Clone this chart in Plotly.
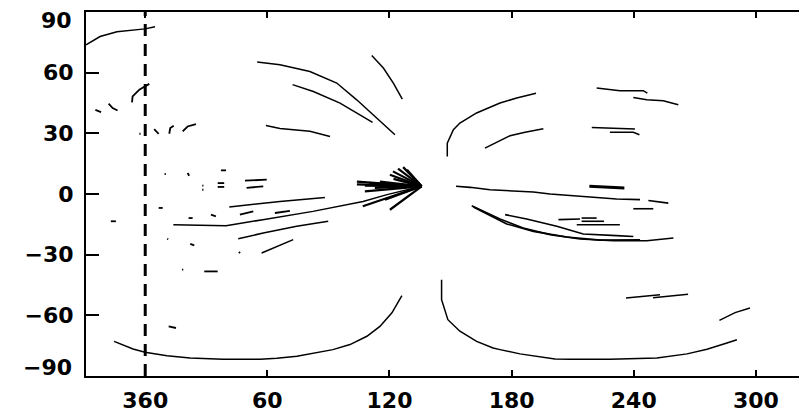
import plotly.graph_objects as go

# ---------------- data (true longitudes in degrees, latitudes in degrees) ----------------
X_TICK_VALS = [360, 420, 480, 540, 600, 660]
X_TICK_TEXT = ["360", "60", "120", "180", "240", "300"]
Y_TICK_VALS = [-90, -60, -30, 0, 30, 60, 90]
Y_TICK_TEXT = ["", "\u221260", "\u221230", "0", "30", "60", ""]
Y_EDGE_LABELS = ["90", "\u221290"]
Y_EDGE_LABEL_POS = [85.7, -85.7]
MERIDIAN = 360
WRAP_START = 330

N_POLAR_LON = [330.9, 337.8, 346.1, 354.0, 359.9, 4.8]
N_POLAR_LAT = [73.8, 77.9, 80.3, 81.3, 81.7, 82.7]

S_POLAR_W_LON = [344.7, 354.0, 359.9, 10.7, 22.0, 38.2, 56.4, 64.7, 74.5, 84.4, 92.2, 100.6, 108.9, 115.3, 121.2, 126.1]
S_POLAR_W_LAT = [-72.9, -76.7, -78.3, -80.0, -81.1, -81.8, -81.8, -81.3, -80.3, -78.6, -77.0, -74.5, -70.4, -65.5, -58.8, -50.3]

S_POLAR_E_LON = [145.6, 145.6, 148.7, 154.6, 162.8, 170.9, 174.3, 184.1, 201.3, 208.7, 228.3, 251.4, 266.2, 276.0, 285.8, 290.7]
S_POLAR_E_LAT = [-42.4, -52.3, -62.2, -67.9, -72.9, -76.2, -77.0, -79.1, -81.6, -81.8, -81.8, -81.1, -79.1, -76.8, -73.7, -72.1]

SE_ARCS_LON = [282.1, 289.8, 297.1, None, 236.2, 246.5, 252.9, None, 249.5, 266.7]
SE_ARCS_LAT = [-62.5, -58.7, -56.4, None, -51.4, -50.3, -49.8, None, -51.3, -49.6]

NW_ARCS_LON = [55.0, 66.2, 80.9, 94.1, 103.9, 113.7, 122.7, None,
               72.4, 82.6, 95.7, 103.9, 111.7, None,
               111.3, 117.0, 121.9, 126.3, None,
               59.3, 66.2, 80.9, 90.8]
NW_ARCS_LAT = [65.3, 63.9, 60.6, 54.9, 46.6, 37.6, 29.3, None,
               54.1, 50.7, 45.0, 40.1, 35.4, None,
               68.5, 62.3, 54.9, 47.0, None,
               33.9, 32.4, 31.0, 28.5]

NE_ARCS_LON = [148.4, 148.4, 151.4, 154.6, 162.8, 174.3, 182.5, 192.0, None,
               166.9, 174.3, 179.2, 186.6, 195.6, None,
               221.8, 226.7, 233.2, 244.7, 246.7, None,
               239.8, 246.4, 254.5, 261.9, None,
               219.4, 230.8, 240.6, None,
               228.3, 239.8, 242.8]
NE_ARCS_LAT = [18.6, 25.2, 31.8, 35.1, 40.1, 45.0, 47.5, 49.9, None,
               22.7, 26.4, 28.8, 30.6, 32.3, None,
               52.4, 51.9, 51.1, 51.1, 49.9, None,
               47.8, 46.6, 46.1, 44.2, None,
               32.9, 32.4, 32.1, None,
               30.5, 30.5, 29.3]

FAN_HUB_LON = 135.8
FAN_HUB_LAT = 3.8
FAN_START_LON = [120.2, 121.7, 124.2, 126.7, 128.6, 104.0, 104.0, 107.9, 115.3, 117.8,
                 107.9, 112.8, 106.9, 120.2, 117.8, 110.0, 122.0]
FAN_START_LAT = [9.5, 11.2, 12.5, 13.3, 12.0, 6.1, 4.8, 4.1, 6.1, 5.1,
                 1.3, 3.0, -6.1, -7.8, -2.8, 5.5, 7.5]

W_LINES_LON = [13.8, 39.7, 57.8, 82.4, 107.0, 118.8, 135.8, None,
               41.3, 66.2, 88.3, None,
               45.7, 58.0, 74.4, 89.9, None,
               57.2, 64.6, 72.7]
W_LINES_LAT = [-15.2, -15.7, -12.7, -8.6, -3.7, -0.3, 3.8, None,
               -6.4, -3.7, -1.7, None,
               -22.1, -19.3, -16.0, -13.5, None,
               -29.2, -25.9, -22.6]

FRAG_LON = [46.5, 53.1, None, 63.7, 71.1, None, 49.0, 59.7, None, 49.8, 58.0, None,
            35.6, 38.8, None, 35.6, 38.8, None, 28.0, 28.6, None, 28.0, 28.6, None,
            37.2, 39.7, None, 20.8, 21.6, None, 9.5, 10.1, None, 6.6, 8.6, None,
            21.3, 23.3, None, 32.3, 34.7, None, 10.8, 11.3, None, 22.1, 24.1, None,
            46.0, 46.6, None, 18.1, 18.7, None, 29.0, 35.6, None, 11.5, 15.1, None,
            343.1, 345.6, None, 335.5, 338.3, None, 342.0, 344.0, 346.4, None,
            353.5, 353.8, 357.1, 0.3, 2.0, None, 357.1, 357.7, None,
            4.4, 6.6, None, 11.8, 12.3, 14.0, None, 18.4, 20.8, 24.9]
FRAG_LAT = [-10.2, -8.6, None, -9.4, -8.3, None, 6.6, 7.1, None, 3.0, 3.8, None,
            5.4, 5.4, None, 3.5, 3.5, None, 4.1, 4.1, None, 2.1, 2.1, None,
            11.7, 11.7, None, 10.4, 9.0, None, 9.9, 9.9, None, -6.9, -6.9, None,
            -11.9, -11.9, None, -10.2, -11.1, None, -22.1, -22.4, None, -24.7, -25.4, None,
            -28.6, -29.2, None, -37.4, -37.4, None, -38.3, -38.3, None, -65.5, -66.3, None,
            -13.5, -13.5, None, 41.6, 40.5, None, 44.7, 42.5, 41.3, None,
            45.3, 48.3, 51.6, 53.5, 54.5, None, 29.8, 29.8, None,
            32.1, 29.8, None, 29.8, 32.6, 33.8, None, 31.0, 33.4, 34.6]

E_LINES_LON = [152.7, 159.6, 169.4, 179.2, 190.7, 198.9, 207.1, 220.1, 231.6, 243.1, None,
               247.2, 257.0, None, 239.8, 249.6, None,
               203.0, 213.6, None, 214.4, 221.8, None, 214.4, 225.4, None, 212.0, 233.2, None,
               160.4, 166.1, 174.3, 185.7, 198.9, 213.6, 230.0, 246.4, 259.5, None,
               161.2, 177.6, 190.7, 207.1, 223.5, 243.1, None,
               176.8, 187.4, 202.2, 215.2, 231.6, 239.8]
E_LINES_LAT = [3.8, 3.3, 2.1, 1.6, 1.0, 0.0, -0.7, -1.7, -2.5, -2.8, None,
               -3.2, -4.5, None, -7.3, -7.3, None,
               -12.7, -12.4, None, -11.9, -11.9, None, -13.5, -13.5, None, -15.2, -15.2, None,
               -5.8, -8.6, -12.4, -16.8, -20.1, -22.3, -23.1, -23.1, -21.8, None,
               -6.4, -14.8, -18.5, -21.3, -22.8, -22.6, None,
               -10.2, -12.4, -16.0, -19.8, -20.6, -21.0]

THICK_SEG_LON = [218.2, 235.4]
THICK_SEG_LAT = [3.8, 3.0]


def unwrap(lons):
    return [None if v is None else (v + 360 if v < WRAP_START else v) for v in lons]


fig = go.Figure()


def add_line(lons, lats, width=1.5):
    fig.add_trace(go.Scatter(x=unwrap(lons), y=lats, mode="lines",
                             line=dict(color="black", width=width),
                             connectgaps=False, hoverinfo="skip", showlegend=False))


add_line(N_POLAR_LON, N_POLAR_LAT)
add_line(S_POLAR_W_LON, S_POLAR_W_LAT)
add_line(S_POLAR_E_LON, S_POLAR_E_LAT)
add_line(SE_ARCS_LON, SE_ARCS_LAT)
add_line(NW_ARCS_LON, NW_ARCS_LAT)
add_line(NE_ARCS_LON, NE_ARCS_LAT)
add_line(W_LINES_LON, W_LINES_LAT)
add_line(FRAG_LON, FRAG_LAT, width=1.8)
add_line(E_LINES_LON, E_LINES_LAT, width=1.6)
add_line(THICK_SEG_LON, THICK_SEG_LAT, width=3)

fan_lon, fan_lat = [], []
for lo, la in zip(FAN_START_LON, FAN_START_LAT):
    fan_lon += [lo, FAN_HUB_LON, None]
    fan_lat += [la, FAN_HUB_LAT, None]
add_line(fan_lon, fan_lat, width=2.2)

# dashed meridian
fig.add_trace(go.Scatter(x=[MERIDIAN, MERIDIAN], y=[-90, 90], mode="lines",
                         line=dict(color="black", width=3, dash="12px,8px"),
                         hoverinfo="skip", showlegend=False))

font = dict(family="DejaVu Sans", size=22, color="black", weight="bold")

for txt, pos in zip(Y_EDGE_LABELS, Y_EDGE_LABEL_POS):
    fig.add_annotation(text=txt, x=0, xref="paper", y=pos, yref="y",
                       xanchor="right", yanchor="middle", xshift=-12,
                       showarrow=False, font=font)

fig.update_layout(
    width=799, height=418,
    margin=dict(l=86, r=0, t=12, b=42, pad=0),
    paper_bgcolor="white", plot_bgcolor="white",
    showlegend=False,
    xaxis=dict(range=[330.9, 681.2], tickvals=X_TICK_VALS, ticktext=X_TICK_TEXT,
               ticks="inside", ticklen=6, tickwidth=1.5, tickcolor="black",
               showline=True, linewidth=2, linecolor="black", mirror="ticks",
               showgrid=False, zeroline=False, tickfont=font, ticklabelstandoff=4,
               ticklabeloverflow="allow"),
    yaxis=dict(range=[-90.05, 90.05], tickvals=Y_TICK_VALS, ticktext=Y_TICK_TEXT,
               ticks="inside", ticklen=13, tickwidth=2, tickcolor="black",
               showline=True, linewidth=2, linecolor="black", mirror=False,
               showgrid=False, zeroline=False, tickfont=font, ticklabelstandoff=6,
               ticklabeloverflow="allow"),
)

fig.write_html("out.html")
